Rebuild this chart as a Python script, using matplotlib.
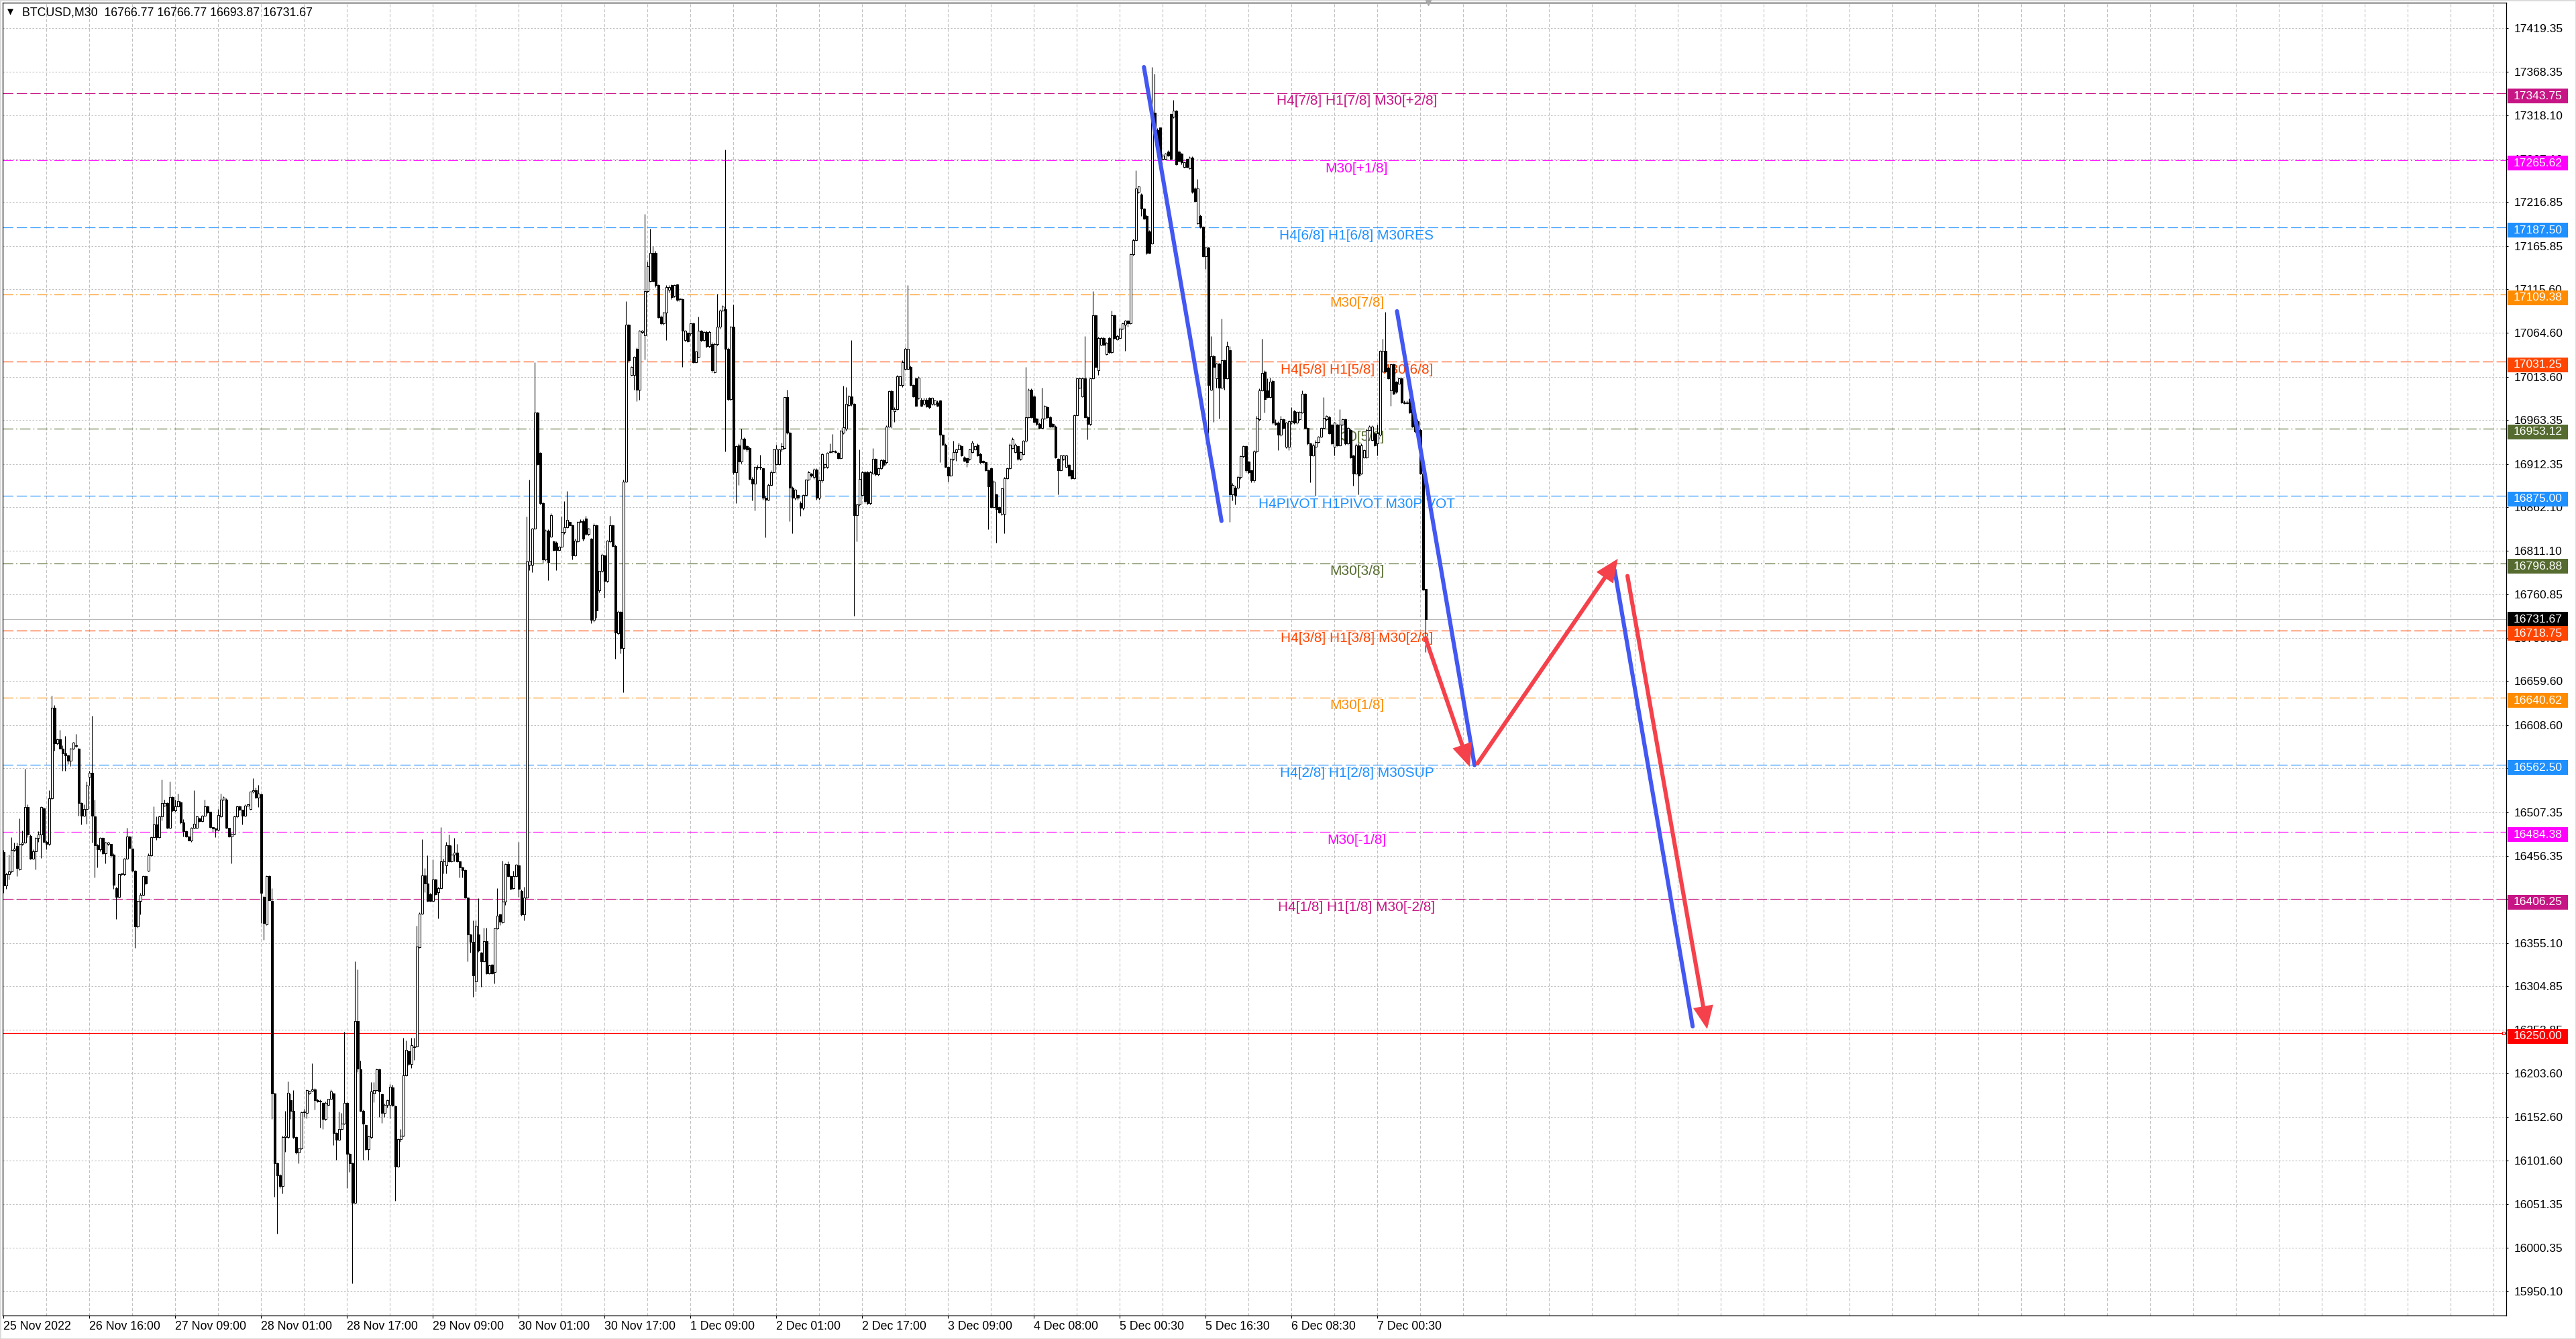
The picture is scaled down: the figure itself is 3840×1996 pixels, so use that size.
import numpy as np
import matplotlib
matplotlib.use("Agg")
import matplotlib.pyplot as plt
from matplotlib.patches import Rectangle, FancyArrowPatch
from matplotlib.transforms import blended_transform_factory

plt.rcParams['font.family'] = ['Liberation Sans', 'DejaVu Sans']

# ---------------- data (M30 candles, bar index = position) ----------------
opens = [
16461,16422,16435,16438,16463,16468,16441,16470,16472,16513,
16480,16453,16462,16477,16481,16512,16473,16470,16523,16629,
16587,16592,16581,16576,16573,16567,16581,16585,16581,16518,
16503,16511,16548,16553,16502,16469,16464,16477,16459,16470,
16470,16458,16419,16409,16435,16435,16453,16479,16465,16439,
16374,16404,16411,16433,16439,16457,16478,16493,16478,16502,
16515,16518,16489,16525,16509,16514,16519,16495,16485,16479,
16474,16489,16489,16500,16497,16503,16514,16508,16490,16488,
16487,16502,16522,16522,16489,16479,16482,16502,16514,16510,
16503,16515,16511,16531,16533,16524,16528,16409,16377,16433,
16404,16180,16099,16085,16072,16129,16129,16172,16160,16129,
16111,16116,16158,16157,16180,16183,16185,16172,16171,16169,
16150,16167,16174,16180,16134,16126,16139,16145,16169,16110,
16099,16053,16264,16208,16160,16143,16115,16129,16180,16184,
16208,16179,16157,16167,16167,16187,16165,16095,16127,16131,
16201,16229,16214,16234,16235,16350,16389,16434,16424,16412,
16404,16429,16414,16419,16450,16445,16469,16450,16458,16460,
16450,16443,16440,16408,16365,16356,16310,16365,16344,16334,
16357,16320,16330,16321,16372,16388,16379,16403,16447,16433,
16419,16433,16445,16416,16388,16408,16795,16795,16837,16972,
16925,16867,16801,16835,16828,16822,16821,16812,16816,16833,
16839,16845,16841,16806,16822,16845,16846,16849,16831,16825,
16731,16841,16765,16788,16806,16776,16822,16841,16817,16715,
16740,16698,16892,17074,17016,17016,17046,16999,17066,17062,
17113,17125,17158,17158,17120,17084,17076,17088,17115,17120,
17108,17121,17104,17104,17056,17065,17064,17076,17031,17037,
17067,17056,17066,17049,17052,17019,17052,17072,17091,17092,
17046,16988,17072,16903,16934,16915,16942,16933,16931,16895,
16889,16909,16908,16907,16873,16871,16888,16903,16912,16912,
16929,16931,16990,16949,16885,16873,16876,16867,16861,16876,
16894,16901,16897,16906,16873,16893,16909,16909,16927,16927,
16927,16925,16919,16949,16953,16981,16991,16982,16853,16865,
16876,16903,16903,16867,16901,16918,16900,16907,16917,16914,
16956,16997,16974,16976,17004,17004,17023,17023,17025,17004,
17012,16989,16987,16982,16987,16989,16982,16982,16984,16986,
16946,16935,16909,16899,16918,16926,16929,16933,16920,16919,
16918,16926,16929,16935,16924,16916,16914,16905,16907,16862,
16877,16862,16854,16854,16896,16907,16931,16926,16933,16918,
16924,16939,16967,16999,16991,16965,16959,16954,16965,16978,
16967,16959,16956,16918,16905,16918,16909,16911,16905,16896,
16969,17001,16991,17012,16967,16959,17012,17085,17021,17051,
17059,17040,17059,17042,17085,17057,17059,17070,17074,17079,
17076,17156,17173,17229,17226,17209,17201,17183,17169,17321,
17301,17304,17267,17267,17276,17319,17316,17323,17276,17273,
17258,17267,17256,17269,17233,17192,17201,17188,17154,17164,
16999,17038,17012,17029,17001,17033,17012,17045,16877,16885,
16885,16897,16921,16933,16915,16905,16893,16927,16964,16998,
17020,16998,16990,17009,16960,16960,16946,16964,16932,16932,
16960,16974,16960,16964,16972,16994,16954,16936,16922,16932,
16938,16944,16954,16964,16967,16958,16932,16958,16934,16958,
16964,16936,16952,16922,16901,16934,16901,16920,16920,16952,
16940,16948,16936,16946,17020,17044,17024,16998,17028,17008,
17006,17012,16984,16983,16988,16976,16964,16962,16952,16901,
16766.77]

highs = [
16463,16437,16458,16478,16472,16472,16500,16486,16558,16516,
16481,16464,16478,16485,16514,16513,16474,16533,16643,16632,
16593,16603,16585,16596,16574,16582,16589,16598,16582,16519,
16516,16543,16555,16619,16522,16470,16478,16478,16473,16473,
16470,16459,16420,16436,16436,16454,16489,16480,16465,16440,
16404,16413,16434,16434,16459,16479,16514,16502,16503,16545,
16522,16519,16543,16526,16522,16529,16520,16499,16486,16480,
16490,16533,16503,16501,16504,16522,16515,16508,16490,16489,
16511,16529,16526,16523,16489,16483,16503,16515,16515,16510,
16516,16516,16531,16547,16536,16539,16529,16410,16434,16434,
16419,16181,16100,16086,16131,16160,16194,16180,16184,16130,
16117,16159,16162,16185,16183,16215,16186,16174,16173,16170,
16171,16168,16185,16181,16135,16159,16157,16252,16170,16111,
16100,16334,16324,16218,16161,16144,16131,16193,16193,16209,
16209,16180,16168,16173,16191,16190,16166,16128,16139,16245,
16242,16230,16245,16245,16375,16391,16476,16442,16457,16413,
16452,16430,16420,16490,16453,16473,16481,16469,16477,16470,
16451,16444,16441,16409,16366,16381,16381,16407,16345,16373,
16373,16330,16331,16373,16419,16389,16451,16448,16450,16434,
16439,16447,16473,16417,16420,16851,16894,16838,17031,16973,
16926,16868,16836,16836,16855,16823,16822,16817,16851,16869,
16881,16846,16842,16825,16846,16848,16848,16852,16838,16826,
16843,16842,16767,16808,16807,16824,16852,16842,16818,16742,
16741,16894,17102,17075,17026,17038,17048,17068,17068,17203,
17148,17186,17166,17160,17121,17085,17089,17120,17120,17121,
17121,17122,17105,17105,17068,17066,17077,17077,17044,17084,
17068,17067,17067,17067,17054,17053,17110,17092,17097,17278,
17048,17073,17098,16934,16936,16953,16943,16935,16932,16897,
16910,16911,16923,16908,16875,16889,16905,16930,16935,16930,
16937,16932,16999,16950,16886,16883,16877,16869,16877,16895,
16904,16902,16907,16907,16894,16925,16913,16926,16936,16947,
16928,16926,16952,17003,17002,16992,17056,16983,16866,16929,
16904,16904,16904,16904,16931,16919,16908,16918,16918,16957,
16998,16999,16978,17016,17015,17033,17048,17120,17027,17005,
17013,17014,16989,16989,16989,16990,16990,16987,16986,16987,
16947,16936,16910,16919,16939,16930,16937,16934,16921,16920,
16930,16939,16934,16936,16925,16917,16915,16906,16908,16893,
16878,16863,16884,16897,16908,16936,16943,16936,16934,16927,
16940,17025,17000,17000,16992,16966,16960,17001,16981,16979,
16968,16960,16957,16919,16923,16923,16923,16913,16906,16970,
17013,17013,17013,17061,16968,17013,17113,17086,17060,17060,
17060,17054,17060,17091,17086,17063,17071,17077,17080,17080,
17157,17174,17254,17236,17227,17210,17202,17184,17374,17366,
17303,17304,17273,17274,17277,17320,17336,17324,17277,17274,
17264,17268,17270,17270,17234,17244,17202,17189,17165,17165,
17061,17039,17030,17030,17081,17034,17055,17049,16890,16887,
16899,16922,16934,16934,16916,16905,16928,16968,17000,17058,
17021,17012,17013,17010,16964,16962,16968,16965,16961,16963,
16978,16975,16974,16974,16998,16995,16955,16937,16936,16940,
16945,16955,16990,16969,16968,16959,16961,16959,16976,16965,
16965,16956,16953,16923,16936,16936,16936,16929,16953,16957,
16957,16949,16958,17045,17058,17089,17025,17029,17029,17009,
17013,17013,16986,16986,16989,16977,16965,16964,16953,16901,
16766.77]

lows = [
16413,16418,16429,16437,16462,16433,16440,16469,16471,16478,
16452,16452,16441,16473,16454,16472,16464,16469,16522,16579,
16586,16581,16555,16555,16563,16561,16580,16583,16503,16493,
16502,16494,16538,16472,16431,16443,16462,16458,16448,16469,
16455,16418,16383,16408,16434,16434,16452,16465,16438,16349,
16373,16388,16410,16423,16438,16456,16477,16475,16477,16498,
16514,16488,16488,16508,16508,16513,16494,16479,16478,16474,
16473,16488,16488,16496,16496,16502,16506,16489,16484,16478,
16486,16501,16521,16488,16478,16448,16481,16501,16509,16493,
16502,16514,16510,16530,16523,16513,16378,16359,16376,16405,
16150,16060,16017,16070,16064,16112,16128,16150,16128,16110,
16099,16115,16153,16151,16179,16182,16161,16170,16140,16139,
16149,16166,16173,16120,16103,16125,16138,16144,16070,16089,
15959,16052,16205,16159,16103,16114,16103,16128,16170,16183,
16153,16146,16153,16164,16151,16165,16055,16094,16124,16130,
16200,16213,16210,16219,16234,16349,16388,16414,16403,16403,
16403,16411,16384,16418,16436,16436,16449,16449,16450,16449,
16431,16431,16407,16334,16344,16292,16299,16345,16304,16333,
16319,16319,16319,16308,16371,16376,16378,16399,16432,16417,
16418,16432,16409,16387,16381,16406,16789,16786,16836,16911,
16865,16797,16800,16777,16827,16811,16789,16811,16815,16831,
16838,16840,16801,16805,16821,16844,16823,16829,16829,16727,
16729,16733,16763,16786,16757,16775,16821,16816,16686,16714,
16692,16647,16891,17031,17015,16999,16985,16987,17064,17034,
17112,17124,17124,17118,17082,17074,17074,17056,17112,17104,
17106,17102,17102,17025,17055,17054,17062,17030,17030,17036,
17055,17055,17048,17048,17019,17018,17050,17070,17090,16927,
16986,16986,16900,16867,16888,16913,16929,16927,16894,16870,
16858,16906,16906,16871,16827,16870,16887,16902,16911,16911,
16927,16930,16947,16846,16832,16871,16871,16852,16859,16875,
16893,16897,16895,16871,16871,16891,16907,16907,16925,16925,
16925,16918,16918,16947,16951,16979,16980,16736,16822,16864,
16875,16867,16865,16865,16900,16899,16899,16906,16909,16913,
16955,16954,16961,16975,17003,17002,17022,17022,17003,16990,
16979,16988,16979,16981,16978,16977,16981,16981,16979,16914,
16934,16908,16892,16898,16917,16916,16934,16921,16915,16909,
16917,16925,16928,16921,16913,16913,16904,16836,16861,16861,
16821,16855,16853,16832,16895,16906,16930,16925,16917,16917,
16923,16938,16966,16966,16960,16957,16953,16953,16964,16966,
16955,16955,16919,16877,16904,16917,16908,16898,16895,16895,
16968,17000,16990,16966,16941,16957,17011,17024,17016,17050,
17050,17039,17041,17041,17058,17056,17058,17069,17044,17072,
17075,17155,17172,17227,17201,17197,17156,17157,17168,17303,
17283,17261,17266,17266,17270,17266,17315,17260,17264,17261,
17257,17257,17255,17227,17217,17191,17187,17153,17139,16948,
16998,16961,17001,16965,17000,16999,17011,16845,16870,16865,
16883,16895,16920,16903,16901,16891,16891,16925,16963,16997,
16972,16989,16989,16959,16957,16928,16945,16953,16931,16928,
16959,16959,16959,16963,16971,16953,16935,16891,16921,16875,
16937,16943,16953,16963,16947,16935,16922,16933,16933,16957,
16935,16935,16919,16887,16900,16877,16900,16919,16919,16951,
16939,16933,16922,16945,17019,17019,17011,16980,16993,16995,
17005,16983,16982,16982,16971,16955,16949,16947,16900,16765,
16693.87]

closes = [
16422,16435,16438,16463,16465,16442,16470,16472,16513,16481,
16453,16462,16477,16481,16513,16473,16470,16523,16629,16587,
16592,16581,16576,16573,16567,16581,16588,16584,16518,16503,
16511,16538,16553,16503,16469,16464,16477,16459,16472,16472,
16457,16423,16409,16435,16436,16453,16479,16466,16439,16374,
16404,16411,16433,16424,16457,16478,16493,16478,16502,16518,
16518,16489,16525,16509,16514,16520,16495,16485,16479,16474,
16489,16494,16502,16497,16503,16514,16507,16490,16488,16487,
16504,16522,16524,16489,16479,16482,16502,16514,16510,16503,
16515,16516,16531,16533,16524,16529,16413,16378,16433,16405,
16180,16099,16085,16072,16129,16131,16181,16160,16129,16111,
16116,16158,16159,16184,16182,16185,16172,16171,16171,16150,
16169,16174,16182,16134,16126,16139,16145,16169,16110,16099,
16053,16264,16209,16160,16145,16115,16130,16182,16184,16208,
16182,16157,16167,16172,16188,16166,16095,16127,16131,16201,
16231,16214,16236,16235,16351,16389,16434,16424,16404,16404,
16429,16412,16419,16450,16450,16469,16450,16458,16460,16450,
16443,16440,16408,16365,16356,16317,16375,16346,16334,16357,
16320,16329,16320,16372,16387,16380,16403,16447,16433,16418,
16433,16446,16418,16388,16408,16799,16800,16837,16972,16912,
16867,16801,16835,16798,16853,16812,16812,16816,16833,16839,
16847,16841,16806,16823,16845,16846,16825,16831,16837,16731,
16841,16742,16788,16807,16776,16823,16841,16817,16716,16740,
16698,16892,17074,17033,17025,17037,16999,17067,17067,17113,
17142,17158,17125,17120,17083,17076,17088,17118,17118,17106,
17120,17103,17104,17067,17067,17055,17076,17031,17043,17067,
17056,17066,17049,17066,17021,17052,17072,17091,17095,17046,
16988,17072,16903,16933,16915,16942,16930,16929,16895,16889,
16909,16908,16909,16873,16871,16888,16903,16929,16930,16929,
16933,16990,16949,16885,16873,16882,16873,16861,16876,16894,
16903,16899,16906,16873,16893,16924,16912,16925,16926,16927,
16926,16919,16951,16955,16982,16991,16982,16853,16865,16895,
16903,16869,16867,16903,16918,16900,16907,16917,16911,16956,
16997,16976,16976,17014,17014,17031,17046,17046,17004,16991,
16980,17013,16980,16987,16979,16978,16989,16986,16980,16946,
16935,16909,16899,16918,16926,16929,16935,16922,16916,16914,
16929,16937,16933,16922,16914,16914,16905,16886,16862,16892,
16860,16856,16884,16896,16907,16935,16941,16935,16918,16926,
16939,16967,16999,16967,16961,16959,16954,16965,16980,16967,
16956,16956,16920,16905,16922,16922,16922,16899,16896,16969,
17012,17012,17012,16967,16959,17012,17085,17025,17059,17059,
17051,17053,17042,17085,17059,17061,17070,17076,17079,17076,
17156,17173,17233,17235,17209,17198,17158,17158,17321,17304,
17284,17267,17271,17273,17271,17267,17323,17261,17265,17263,
17263,17258,17269,17229,17218,17233,17188,17154,17164,17004,
17038,17025,17029,17001,17033,17012,17049,16877,16888,16875,
16897,16921,16933,16905,16903,16893,16927,16966,16998,17018,
16988,16990,17008,16960,16958,16946,16964,16954,16960,16962,
16962,16960,16973,16973,16994,16954,16936,16922,16934,16938,
16944,16954,16966,16968,16948,16936,16960,16934,16958,16964,
16936,16954,16920,16901,16934,16899,16934,16928,16952,16956,
16956,16934,16948,17044,17044,17020,17012,17028,16994,16996,
17012,16984,16983,16984,16972,16956,16950,16948,16901,16766,
16731.67]

time_label_bars = [0, 32, 64, 96, 128, 160, 192, 224, 256, 288, 320, 352, 384, 416, 448, 480, 512]
time_labels = ["25 Nov 2022", "26 Nov 16:00", "27 Nov 09:00", "28 Nov 01:00", "28 Nov 17:00",
               "29 Nov 09:00", "30 Nov 01:00", "30 Nov 17:00", "1 Dec 09:00", "2 Dec 01:00",
               "2 Dec 17:00", "3 Dec 09:00", "4 Dec 08:00", "5 Dec 00:30", "5 Dec 16:30",
               "6 Dec 08:30", "7 Dec 00:30"]

price_ticks = [17419.35, 17368.35, 17318.10, 17267.10, 17216.85, 17165.85, 17115.60, 17064.60,
               17013.60, 16963.35, 16912.35, 16862.10, 16811.10, 16760.85, 16709.85, 16659.60,
               16608.60, 16558.35, 16507.35, 16456.35, 16406.10, 16355.10, 16304.85, 16253.85,
               16203.60, 16152.60, 16101.60, 16051.35, 16000.35, 15950.10]

level_prices = [17343.75, 17265.62, 17187.50, 17109.38, 17031.25, 16953.12, 16875.00,
                16796.88, 16718.75, 16640.62, 16562.50, 16484.38, 16406.25]
level_names = ["H4[7/8] H1[7/8] M30[+2/8]", "M30[+1/8]", "H4[6/8] H1[6/8] M30RES", "M30[7/8]",
               "H4[5/8] H1[5/8] M30[6/8]", "M30[5/8]", "H4PIVOT H1PIVOT M30PIVOT", "M30[3/8]",
               "H4[3/8] H1[3/8] M30[2/8]", "M30[1/8]", "H4[2/8] H1[2/8] M30SUP", "M30[-1/8]",
               "H4[1/8] H1[1/8] M30[-2/8]"]
level_colors = ["#C71585", "#FF00FF", "#1E90FF", "#FF8C00", "#FF4500", "#556B2F", "#1E90FF",
                "#556B2F", "#FF4500", "#FF8C00", "#1E90FF", "#FF00FF", "#C71585"]
level_kinds = ["dash", "dashdot", "dash", "dashdot", "dash", "dashdot", "dash",
               "dashdot", "dash", "dashdot", "dash", "dashdot", "dash"]
level_label_bar = 504.3

current_price = 16731.67
target_price = 16250.00

# hand-drawn forecast lines: (bar, price) start -> end
blue_start = [(425.0, 17374), (519.3, 17090), (600.4, 16789)]
blue_end = [(453.9, 16846), (548.2, 16562), (629.5, 16258)]
red_start = [(530.0, 16709), (549.3, 16564), (605.2, 16782)]
red_end = [(546.4, 16560), (601.6, 16802), (634.9, 16255)]

# ---------------- figure ----------------
W, H = 3840, 1996
fig = plt.figure(figsize=(W / 100, H / 100), dpi=100)
fig.patch.set_facecolor("white")
ax_l, ax_r, ax_t, ax_b = 4, 3736, 4, 1961
ax = fig.add_axes([ax_l / W, (H - ax_b) / H, (ax_r - ax_l) / W, (ax_b - ax_t) / H])
ax.set_facecolor("white")
ax.set_xlim(-0.33, 932.7)
ax.set_ylim(15921.7, 17448.9)

n = min(len(opens), len(highs), len(lows), len(closes))
o = np.array(opens[:n], float)
h = np.array(highs[:n], float)
l = np.array(lows[:n], float)
c = np.array(closes[:n], float)
h = np.maximum(h, np.maximum(o, c))
l = np.minimum(l, np.minimum(o, c))
x = np.arange(n)

# grid
ax.set_yticks(price_ticks)
ax.set_yticklabels([f"{v:.2f}" for v in price_ticks])
ax.yaxis.tick_right()
ax.grid(axis="y", color="#C0C0C0", linewidth=0.8, linestyle=(0, (2.2, 2.2)), zorder=0)
for gx in np.arange(16, 933, 16):
    ax.axvline(gx, color="#C0C0C0", linewidth=0.8, linestyle=(0, (4.0, 2.6)), zorder=0)
ax.set_axisbelow(True)

# level lines
for p, col, kind in zip(level_prices, level_colors, level_kinds):
    ls = (0, (13, 4.3)) if kind == "dash" else (0, (13, 3.6, 1.4, 3.6))
    ax.axhline(p, color=col, linewidth=0.85, linestyle=ls, zorder=1)
ax.axhline(current_price, color="#B8B8B8", linewidth=0.8, zorder=1)
ax.axhline(target_price, color="#FF0000", linewidth=0.9, zorder=1)
ax.plot([931.8], [target_price], marker="s", markersize=3.2, markerfacecolor="white",
        markeredgecolor="#FF0000", markeredgewidth=0.8, zorder=2, clip_on=False)

# level labels
for p, name, col in zip(level_prices, level_names, level_colors):
    ax.annotate(name, xy=(level_label_bar, p), xytext=(0, -8.8), textcoords="offset points",
                ha="center", va="center", fontsize=15, color=col, zorder=2)

# candles
ax.vlines(x, l, h, color="black", linewidth=0.8, zorder=3)
bottom = np.minimum(o, c)
height = np.maximum(np.abs(c - o), 0.4)
up = c >= o
ax.bar(x[up], height[up], bottom=bottom[up], width=0.7, color="white",
       edgecolor="black", linewidth=0.75, zorder=4)
ax.bar(x[~up], height[~up], bottom=bottom[~up], width=0.7, color="black",
       edgecolor="black", linewidth=0.75, zorder=4)

# forecast drawings
BLUE = "#4357F2"
RED = "#F5414B"
for (x0, y0), (x1, y1) in zip(blue_start, blue_end):
    ax.plot([x0, x1], [y0, y1], color=BLUE, linewidth=4.4, solid_capstyle="round", zorder=6)
for (x0, y0), (x1, y1) in zip(red_start, red_end):
    arr = FancyArrowPatch((x0, y0), (x1, y1), arrowstyle="-|>,head_length=1.7,head_width=0.75",
                          mutation_scale=10, color=RED, linewidth=4.4, shrinkA=0, shrinkB=0,
                          capstyle="round", joinstyle="miter", zorder=6)
    ax.add_patch(arr)

# axes styling
for sp in ax.spines.values():
    sp.set_color("black")
    sp.set_linewidth(0.9)
ax.tick_params(axis="y", which="both", length=2.5, width=0.8, pad=5.8, labelsize=12.6,
               colors="black", right=True, left=False)
ax.set_xticks(time_label_bars)
ax.set_xticklabels(time_labels)
ax.tick_params(axis="x", length=2.8, width=0.8, pad=2.6, labelsize=12.8, colors="black")
for lab in ax.get_xticklabels():
    lab.set_ha("left")

# price boxes on the right axis
trans = blended_transform_factory(fig.transFigure, ax.transData)
upp = (17448.9 - 15921.7) / (ax_b - ax_t)
box_h = 22 * upp
boxes = [(current_price, "#000000", 0.0)]
boxes += [(p, col, 4.5) for p, col in zip(level_prices, level_colors)]
boxes += [(target_price, "#FF0000", 4.5)]
for p, col, off in boxes:
    yc = p - off * upp
    fig.add_artist(Rectangle((3738 / W, yc - box_h / 2), 90 / W, box_h, transform=trans,
                             facecolor=col, edgecolor="none", zorder=10))
    fig.text(3783 / W, yc, f"{p:.2f}", transform=trans, ha="center", va="center",
             fontsize=12.6, color="white", zorder=11)

# header
fig.text(11 / W, 1 - 18 / H, "\u25BC", fontsize=8.5, va="center", ha="left", color="black",
         family=["DejaVu Sans"])
fig.text(33 / W, 1 - 19 / H,
         f"BTCUSD,M30  {opens[-1]:.2f} {highs[-1]:.2f} {lows[-1]:.2f} {closes[-1]:.2f}",
         fontsize=12.8, va="center", ha="left", color="black")

# chart shift marker
ax.plot([n], [1.0], marker="v", markersize=6, color="#A8A8A8",
        transform=blended_transform_factory(ax.transData, ax.transAxes), clip_on=False, zorder=12)

# outer frame
fig.add_artist(Rectangle((0, 0), 1, 1, transform=fig.transFigure, fill=False,
                         edgecolor="#DADADA", linewidth=2.0, zorder=0))

fig.savefig("out.png", dpi=100, facecolor="white")
